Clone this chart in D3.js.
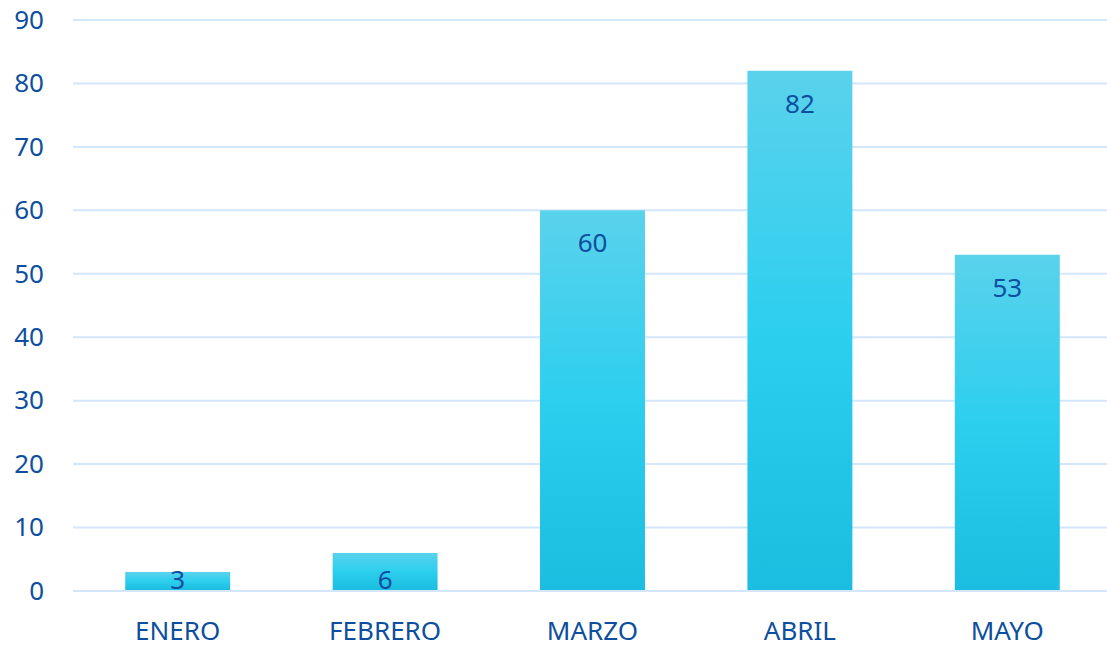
<!DOCTYPE html>
<html>
<head>
<meta charset="utf-8">
<script src="https://cdn.jsdelivr.net/npm/d3@7"></script>
<style>
  body { margin: 0; background: #fff; }
  text { font-family: "Noto Sans", sans-serif; fill: #0d4f9e; }
</style>
</head>
<body>
<svg></svg>
<script>
// data
const months = ['ENERO', 'FEBRERO', 'MARZO', 'ABRIL', 'MAYO']
const values = [3, 6, 60, 82, 53]
const yTicks = [0, 10, 20, 30, 40, 50, 60, 70, 80, 90]

const width = 1107
const height = 646
const margin = { left: 73, top: 20, right: 0, bottom: 55 }

const svg = d3.select('svg')
              .attr('width', width)
              .attr('height', height)

// gradient for the bars, light at top, deeper at bottom
const grad = svg.append('defs').append('linearGradient')
                .attr('id', 'barfill')
                .attr('x1', 0).attr('y1', 0).attr('x2', 0).attr('y2', 1)
grad.append('stop').attr('offset', '0%').attr('stop-color', '#5ad2ec')
grad.append('stop').attr('offset', '50%').attr('stop-color', '#2dcfef')
grad.append('stop').attr('offset', '100%').attr('stop-color', '#1bbde0')

const xscale = d3.scaleBand()
                 .domain(months)
                 .range([margin.left + 1, 1111])
                 .paddingInner(0.494)
                 .paddingOuter(0.247)
const yscale = d3.scaleLinear()
                 .domain([0, 90])
                 .range([height - margin.bottom, margin.top])

// gridlines
svg.append('g')
   .selectAll('line')
   .data(yTicks)
   .join('line')
   .attr('x1', margin.left)
   .attr('x2', width)
   .attr('y1', d => yscale(d))
   .attr('y2', d => yscale(d))
   .attr('stroke', '#d3e6fa')
   .attr('stroke-width', 2)

// y axis labels
const yAxis = svg.append('g')
                 .attr('transform', `translate(44,0)`)
                 .call(d3.axisLeft(yscale).tickValues(yTicks).tickSize(0).tickPadding(0))
yAxis.select('.domain').remove()
yAxis.selectAll('text')
     .attr('font-size', 26)
     .attr('fill', '#0d4f9e')
     .style('font-family', '"Noto Sans", sans-serif')

// x axis labels
const xAxis = svg.append('g')
                 .attr('transform', `translate(0,${yscale(0)})`)
                 .call(d3.axisBottom(xscale).tickSize(0).tickPadding(31))
xAxis.select('.domain').remove()
xAxis.selectAll('text')
     .attr('font-size', 26)
     .attr('fill', '#0d4f9e')
     .style('font-family', '"Noto Sans", sans-serif')

// bars
svg.append('g')
   .selectAll('rect')
   .data(values)
   .join('rect')
   .attr('x', (d, i) => xscale(months[i]))
   .attr('y', d => yscale(d))
   .attr('width', xscale.bandwidth())
   .attr('height', d => yscale(0) - yscale(d) - 1)
   .attr('fill', 'url(#barfill)')

// value labels inside the bars
svg.append('g')
   .selectAll('text')
   .data(values)
   .join('text')
   .attr('x', (d, i) => xscale(months[i]) + xscale.bandwidth() / 2)
   .attr('y', d => Math.min(yscale(d) + 42, yscale(0) - 2))
   .attr('text-anchor', 'middle')
   .attr('font-size', 26)
   .text(d => d)
</script>
</body>
</html>
